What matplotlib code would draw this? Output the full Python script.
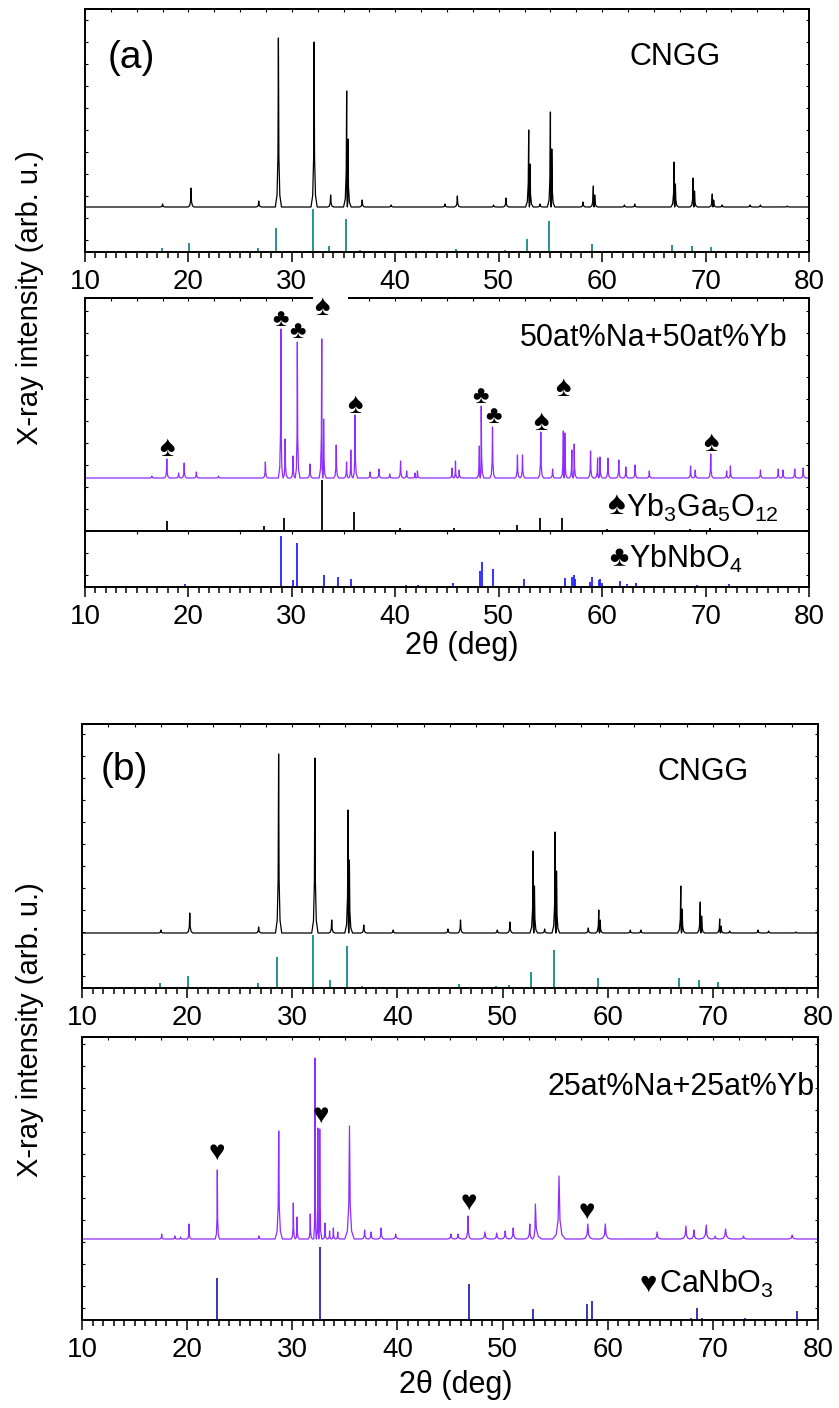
import numpy as np
import matplotlib
matplotlib.use("Agg")
import matplotlib.pyplot as plt
from matplotlib.patches import Rectangle

plt.rcParams['font.family'] = ['Liberation Sans', 'DejaVu Sans']
plt.rcParams['mathtext.fontset'] = 'custom'
plt.rcParams['mathtext.rm'] = 'Liberation Sans'
plt.rcParams['mathtext.it'] = 'Liberation Sans:italic'
plt.rcParams['mathtext.bf'] = 'Liberation Sans:bold'

# ---- panel (a), CNGG pattern: peak position (deg), height, half width
cngg_a_pos = [17.5, 20.25, 26.8, 28.7, 32.15, 33.75, 35.3, 35.43, 36.8, 39.6, 44.8, 46.0,
              49.5, 50.7, 52.9, 53.03, 54.0, 55.0, 55.13, 58.15, 59.15, 59.28, 62.15, 63.15,
              66.95, 67.08, 68.8, 68.93, 70.65, 70.78, 71.6, 74.3, 75.3, 77.9]
cngg_a_int = [3, 19, 6, 169, 165, 12, 116, 68, 7, 2, 3, 11,
              2, 9, 77, 43, 3, 95, 58, 5, 21, 12, 2, 3,
              45, 23, 29, 16, 13, 7, 2, 2, 2, 1]

# ---- panel (b), CNGG pattern
cngg_b_pos = cngg_a_pos
cngg_b_int = [3, 20, 6, 179, 175, 13, 123, 73, 8, 3, 4, 13,
              3, 11, 82, 47, 4, 101, 62, 5, 23, 13, 3, 3,
              47, 24, 31, 17, 14, 7, 2, 3, 2, 1]

# CNGG reference lines
cngg_ref_pos = [17.4, 20.1, 26.7, 28.5, 32.0, 33.6, 35.25, 36.6, 45.85, 49.4, 50.6, 52.75,
                54.85, 59.05, 66.8, 68.7, 70.5]
cngg_ref_a = [4, 9, 4, 24, 43, 6, 33, 2, 3, 1, 2, 13, 31, 8, 7, 6, 5]
cngg_ref_b = [5, 12, 5, 31, 53, 8, 42, 2, 4, 2, 3, 16, 38, 10, 10, 8, 6]

# ---- 50at%Na+50at%Yb pattern
na50_pos = [16.46, 17.91, 19.05, 19.59, 20.77, 22.9, 27.44, 28.94, 29.35, 30.12, 30.53, 31.75,
            32.89, 33.07, 34.29, 35.29, 35.7, 36.11, 37.56, 38.42, 39.46, 40.51, 41.1, 41.92,
            42.14, 45.5, 45.82, 46.18, 48.13, 48.31, 49.4, 51.81, 52.3, 54.07, 55.21, 56.25,
            56.39, 57.07, 57.3, 58.88, 59.56, 59.79, 60.56, 61.61, 62.29, 63.19, 64.56, 68.55,
            69.0, 70.5, 72.04, 72.4, 75.31, 77.03, 77.49, 78.62, 79.44]
na50_int = [2, 19, 5, 15, 6, 2, 16, 149, 39, 22, 136, 14,
            139, 59, 33, 16, 28, 63, 6, 9, 4, 17, 7, 5,
            7, 10, 17, 8, 32, 72, 51, 23, 23, 46, 9, 47,
            45, 28, 34, 27, 20, 21, 20, 18, 11, 13, 7, 12,
            8, 24, 7, 12, 8, 9, 8, 9, 10]

# Yb3Ga5O12 reference lines
ybga_pos = [17.91, 20.77, 27.35, 29.26, 32.89, 35.97, 40.46, 45.68, 51.76, 53.98, 56.16,
            60.47, 68.46, 70.45, 72.27]
ybga_int = [10, 1.5, 5, 13, 51, 19, 3, 3, 6, 13, 13, 2, 2, 3, 1.5]

# YbNbO4 reference lines
ybnb_pos = [19.64, 28.94, 30.12, 30.53, 33.11, 34.43, 35.74, 39.46, 41.05, 42.23, 45.54, 46.23,
            48.22, 48.4, 49.45, 52.4, 56.39, 57.11, 57.25, 57.39, 58.84, 59.02, 59.66, 59.84,
            60.02, 61.7, 62.42, 63.28, 69.18, 72.27]
ybnb_int = [3, 51, 7, 44, 12, 10, 8, 1, 2, 2, 4, 1.5,
            16, 25, 18, 8, 9, 10, 12, 8, 5, 10, 7, 8,
            4, 6, 3, 4, 2, 3]

# ---- 25at%Na+25at%Yb pattern
na25_pos = [17.58, 18.83, 19.37, 20.18, 22.87, 26.82, 28.71, 30.1, 30.46, 31.71, 32.16, 32.43,
            32.61, 33.11, 33.55, 33.91, 34.32, 35.44, 36.88, 37.5, 38.45, 39.84, 45.09, 45.76,
            46.71, 48.32, 49.44, 50.25, 51.01, 52.59, 53.12, 55.37, 58.11, 59.77, 64.7, 67.44,
            68.2, 69.37, 70.22, 71.21, 72.92, 77.54]
na25_int = [5, 3, 2, 15, 69, 3, 108, 36, 22, 25, 181, 111,
            110, 16, 8, 11, 7, 113, 9, 7, 11, 5, 5, 5,
            23, 7, 6, 8, 11, 15, 35, 63, 15, 15, 7, 13,
            9, 14, 3, 10, 3, 4]
na25_wid = [0.2, 0.2, 0.2, 0.2, 0.2, 0.2, 0.35, 0.2, 0.2, 0.2, 0.12, 0.2,
            0.2, 0.2, 0.2, 0.2, 0.2, 0.45, 0.3, 0.3, 0.3, 0.4, 0.4, 0.4,
            0.3, 0.45, 0.4, 0.4, 0.4, 0.4, 0.6, 0.6, 0.5, 0.5, 0.4, 0.5,
            0.4, 0.6, 0.4, 0.6, 0.4, 0.5]

# CaNbO3 reference lines
canb_pos = [22.87, 32.66, 38.49, 46.8, 52.85, 58.02, 58.55, 67.89, 68.47, 69.01, 73.01, 77.99]
canb_int = [42, 73, 1, 36, 11, 16, 19, 2, 12, 2, 2, 9]

# phase markers
spade_a = [17.91, 32.87, 36.1, 54.07, 56.2, 70.5]
spade_a_y = [139, 280, 182, 165, 199, 144]
club_a = [28.94, 30.53, 48.22, 49.45]
club_a_y = [268, 256, 191, 171]
heart_b = [22.87, 32.75, 46.8, 58.05]
heart_b_y = [167, 204, 117, 108]

BLACK = 'black'
TEAL = '#138a8a'
PURPLE = '#8f2cff'
BLUE = '#2222ff'
NAVY = '#2626b4'

SHAPE_DX = np.array([-1, -0.45, -0.15, 0, 0.15, 0.45, 1])
SHAPE_DY = np.array([0, 0.07, 0.3, 1, 0.3, 0.07, 0])


def pattern(pos, hgt, wid, base):
    pos = np.asarray(pos, float)
    hgt = np.asarray(hgt, float)
    wid = np.broadcast_to(np.asarray(wid, float), pos.shape)
    order = np.argsort(pos)
    pos, hgt, wid = pos[order], hgt[order], wid[order]
    xs, ys = [10.0], [base]
    n = len(pos)
    for i in range(n):
        wl = wid[i] if i == 0 else min(wid[i], (pos[i] - pos[i - 1]) / 2)
        wr = wid[i] if i == n - 1 else min(wid[i], (pos[i + 1] - pos[i]) / 2)
        dx = np.where(SHAPE_DX < 0, SHAPE_DX * wl, SHAPE_DX * wr)
        xs.extend(pos[i] + dx)
        ys.extend(base + SHAPE_DY * hgt[i])
    xs.append(80.0)
    ys.append(base)
    return xs, ys


W, H = 839, 1408
fig = plt.figure(figsize=(W / 100, H / 100), dpi=100)


def panel(x0, y0, x1, y1):
    ax = fig.add_axes([x0 / W, 1 - y1 / H, (x1 - x0) / W, (y1 - y0) / H])
    h = y1 - y0
    ax.set_xlim(10, 80)
    ax.set_ylim(0, h)
    for s in ax.spines.values():
        s.set_linewidth(1.4)
    ax.set_xticks(range(10, 81, 10))
    ax.set_xticks(np.arange(10, 81, 1), minor=True)
    ax.tick_params(axis='x', which='major', direction='out', length=7, width=1.1,
                   labelsize=20, pad=5, top=False)
    ax.tick_params(axis='x', which='minor', direction='out', length=4.5, width=1.1, top=False)
    ax.set_yticks(np.arange(12, h, 22))
    ax.tick_params(axis='y', direction='in', length=2, width=0.8, left=True, right=True,
                   labelleft=False)
    sec = ax.secondary_xaxis('top')
    sec.set_xticks(np.arange(10, 80.1, 2.5))
    sec.tick_params(direction='in', length=2, width=0.8, labeltop=False)
    sec.spines['top'].set_linewidth(1.4)
    return ax


def marker(ax, x, y, ch, size=18):
    ax.text(x, y, ch, ha='center', va='center', fontsize=size, color='black', zorder=5)


# ---------- (a) top: CNGG
ax = panel(85, 9, 809, 252)
x, y = pattern(cngg_a_pos, cngg_a_int, 0.3, 45)
ax.plot(x, y, color=BLACK, lw=0.9)
ax.vlines(cngg_ref_pos, 0, cngg_ref_a, color=TEAL, lw=1.3)
ax.text(12.2, 194, '(a)', fontsize=28, ha='left', va='center')
ax.text(62.65, 195, 'CNGG', fontsize=22, ha='left', va='center')

# ---------- (a) bottom: 50at%Na+50at%Yb
ax = panel(85, 298, 809, 587)
x, y = pattern(na50_pos, na50_int, 0.25, 109)
ax.plot(x, y, color=PURPLE, lw=0.9)
ax.axhline(56, color='black', lw=1.4)
ax.vlines(np.arange(15, 80, 5), 53, 56, color='black', lw=0.8)
ax.vlines(ybga_pos, 56, 56 + np.array(ybga_int), color=BLACK, lw=1.3)
ax.vlines(ybnb_pos, 0, ybnb_int, color=BLUE, lw=1.3)
ax.add_patch(Rectangle((32.06, 282), 3.36, 13, facecolor='white', edgecolor='none',
                       zorder=4, clip_on=False))
for xs_, ys_ in zip(spade_a, spade_a_y):
    marker(ax, xs_, ys_, '\u2660', size=21)
for xs_, ys_ in zip(club_a, club_a_y):
    marker(ax, xs_, ys_, '\u2663')
ax.text(77.94, 249, '50at%Na+50at%Yb', fontsize=22, ha='right', va='center')
ax.text(61.38, 82, '\u2660', fontsize=24, ha='center', va='center')
ax.text(62.3, 70, r'Yb$_3$Ga$_5$O$_{12}$', fontsize=22, ha='left', va='baseline')
ax.text(61.6, 29, '\u2663', fontsize=21, ha='center', va='center')
ax.text(62.6, 19, r'YbNbO$_4$', fontsize=22, ha='left', va='baseline')

# ---------- (b) top: CNGG
ax = panel(82, 724, 818, 988)
x, y = pattern(cngg_b_pos, cngg_b_int, 0.3, 55)
ax.plot(x, y, color=BLACK, lw=0.9)
ax.vlines(cngg_ref_pos, 0, cngg_ref_b, color=TEAL, lw=1.3)
ax.text(11.74, 218, '(b)', fontsize=28, ha='left', va='center')
ax.text(64.7, 216, 'CNGG', fontsize=22, ha='left', va='center')

# ---------- (b) bottom: 25at%Na+25at%Yb
ax = panel(82, 1037, 818, 1320)
x, y = pattern(na25_pos, na25_int, na25_wid, 81)
ax.plot(x, y, color=PURPLE, lw=0.9)
ax.vlines(canb_pos, 0, canb_int, color=NAVY, lw=1.3)
for xs_, ys_ in zip(heart_b, heart_b_y):
    marker(ax, xs_, ys_, '\u2665', size=20)
ax.text(79.65, 233, '25at%Na+25at%Yb', fontsize=22, ha='right', va='center')
ax.text(63.85, 36, '\u2665', fontsize=21, ha='center', va='center')
ax.text(64.9, 27, r'CaNbO$_3$', fontsize=22, ha='left', va='baseline')

# axis titles
fig.text(30 / W, 1 - 298 / H, 'X-ray intensity (arb. u.)', rotation=90,
         ha='center', va='center', fontsize=21)
fig.text(30 / W, 1 - 1030 / H, 'X-ray intensity (arb. u.)', rotation=90,
         ha='center', va='center', fontsize=21)
fig.text(462 / W, 1 - 646 / H, '2\u03b8 (deg)', ha='center', va='center', fontsize=22)
fig.text(456 / W, 1 - 1385 / H, '2\u03b8 (deg)', ha='center', va='center', fontsize=22)

fig.savefig('out.png', dpi=100)
